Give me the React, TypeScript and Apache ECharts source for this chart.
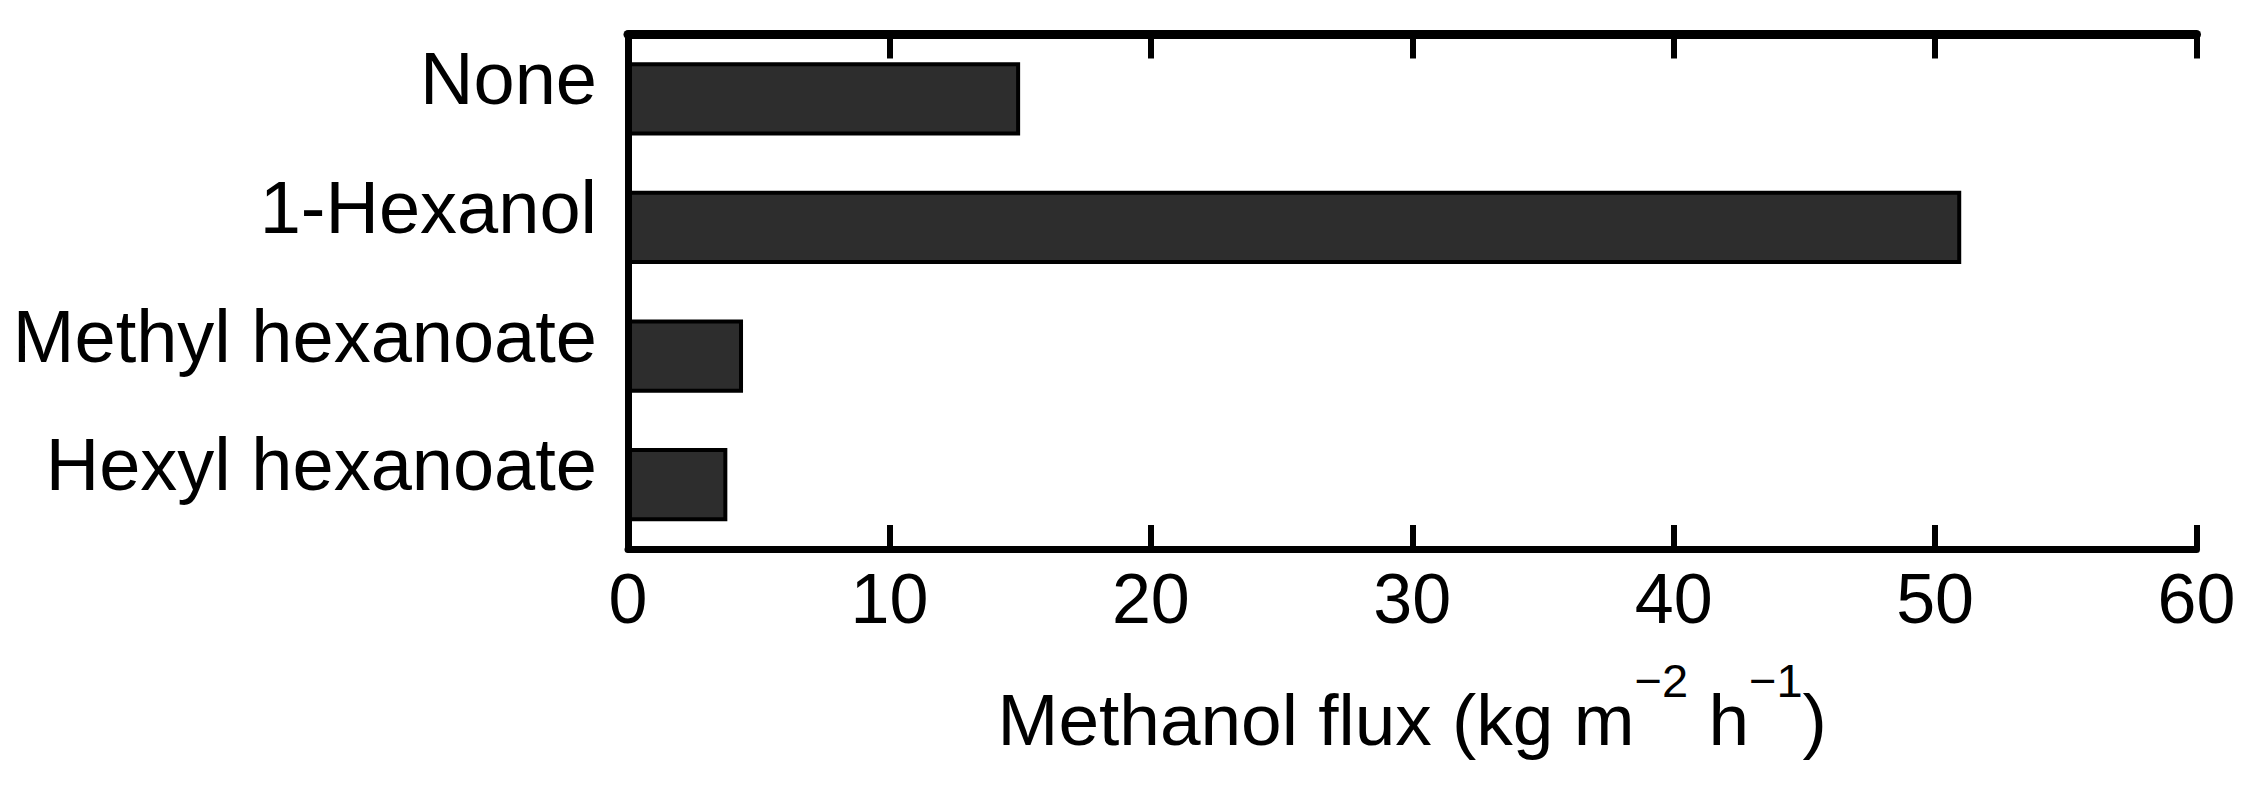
import React, { useEffect, useRef } from "react";
import * as echarts from "echarts";

const categories = ["None", "1-Hexanol", "Methyl hexanoate", "Hexyl hexanoate"];
const fluxValues = [15.0, 51.0, 4.4, 3.8];
const xMin = 0;
const xMax = 60;
const xInterval = 10;
const axisTitle = "{a|Methanol flux (kg m}{s|−2}{a| h}{s|−1}{a|)}";

const FONT = "'Liberation Sans', Arial, Helvetica, sans-serif";

export default function App() {
  const ref = useRef<HTMLDivElement>(null);

  useEffect(() => {
    if (!ref.current) return;
    const chart = echarts.init(ref.current, undefined, { renderer: "svg" });
    const frameLine = (w: number) => ({ show: true, lineStyle: { color: "#000", width: w } });
    chart.setOption({
      animation: false,
      backgroundColor: "#fff",
      grid: { left: 628, right: 62.5, top: 34.5, bottom: 237, containLabel: false },
      xAxis: [
        {
          type: "value",
          position: "bottom",
          min: xMin,
          max: xMax,
          interval: xInterval,
          z: 10,
          axisLine: frameLine(7),
          axisTick: { show: true, inside: true, length: 24, lineStyle: { color: "#000", width: 6 } },
          axisLabel: { fontSize: 70, color: "#000", margin: 15, fontFamily: FONT },
          splitLine: { show: false },
          name: axisTitle,
          nameLocation: "middle",
          nameGap: 108,
          nameTextStyle: {
            color: "#000",
            fontFamily: FONT,
            fontSize: 73,
            rich: {
              a: { fontSize: 73, lineHeight: 124, fontFamily: FONT, color: "#000" },
              s: { fontSize: 47, lineHeight: 40, verticalAlign: "top", fontFamily: FONT, color: "#000" },
            },
          },
        },
        {
          type: "value",
          position: "top",
          min: xMin,
          max: xMax,
          interval: xInterval,
          z: 10,
          axisLine: frameLine(9),
          axisTick: { show: true, inside: true, length: 24, lineStyle: { color: "#000", width: 6 } },
          axisLabel: { show: false },
          splitLine: { show: false },
        },
      ],
      yAxis: [
        {
          type: "category",
          data: categories,
          inverse: true,
          z: 10,
          axisLine: frameLine(7),
          axisTick: { show: false },
          axisLabel: {
            fontSize: 74,
            color: "#000",
            margin: 31,
            fontFamily: FONT,
            verticalAlign: "bottom",
            lineHeight: 40,
          },
          splitLine: { show: false },
        },
        {
          type: "category",
          position: "right",
          data: categories,
          inverse: true,
          z: 10,
          axisLine: frameLine(7),
          axisTick: { show: false },
          axisLabel: { show: false },
          splitLine: { show: false },
        },
      ],
      series: [
        {
          type: "bar",
          xAxisIndex: 0,
          yAxisIndex: 0,
          data: fluxValues,
          barWidth: "57%",
          itemStyle: { color: "#2d2d2d", borderColor: "#000", borderWidth: 4 },
        },
      ],
    });
    return () => chart.dispose();
  }, []);

  return (
    <div
      ref={ref}
      style={{ position: "fixed", left: 0, top: 0, width: 2259, height: 786, background: "#fff" }}
    />
  );
}
